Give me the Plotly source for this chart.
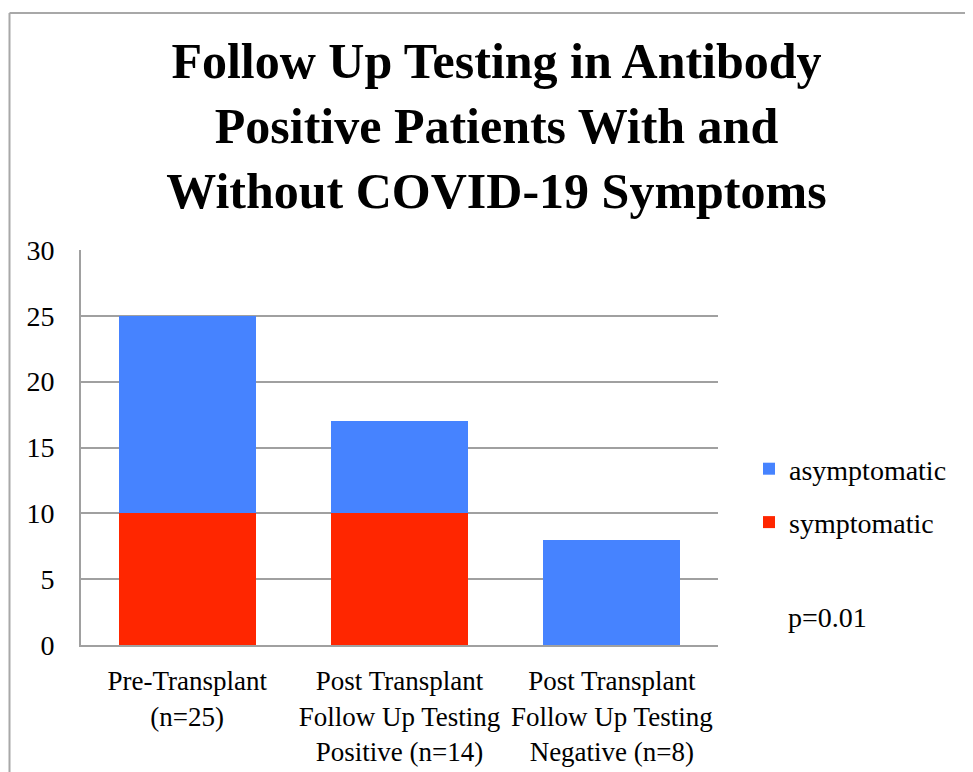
import plotly.graph_objects as go

categories = [
    "Pre-Transplant<br>(n=25)",
    "Post Transplant<br>Follow Up Testing<br>Positive (n=14)",
    "Post Transplant<br>Follow Up Testing<br>Negative (n=8)",
]
symptomatic = [10, 10, 0]
asymptomatic = [15, 7, 8]
y_ticks = [0, 5, 10, 15, 20, 25, 30]

FONT = "Liberation Serif"
OFF = 8  # page body margin
W, H = 973 - OFF, 772 - OFF
# plot area in screen pixels
SL, SR, ST, SB = 81, 718, 250, 645
L, R, T, B = SL - OFF, SR - OFF, ST - OFF, SB - OFF

fig = go.Figure()
fig.add_trace(go.Bar(x=categories, y=symptomatic, name="symptomatic",
                     marker=dict(color="#FF2600", line=dict(width=0)),
                     legendgroup="s", legendrank=2))
fig.add_trace(go.Bar(x=categories, y=asymptomatic, name="asymptomatic",
                     marker=dict(color="#4683FF", line=dict(width=0)),
                     legendgroup="a", legendrank=1))

def px_x(x):
    return (x - OFF - L) / (R - L)

def px_y(y):
    return (B - (y - OFF)) / (B - T)

fig.update_layout(
    width=W, height=H,
    margin=dict(l=L, r=W - R, t=T, b=H - B, autoexpand=False),
    barmode="stack",
    bargap=0.355,
    plot_bgcolor="white",
    paper_bgcolor="white",
    font=dict(family=FONT, size=28, color="black"),
    title=dict(
        text="<b>Follow Up Testing in Antibody<br>Positive Patients With and<br>Without COVID-19 Symptoms</b>",
        x=(496.5 - OFF) / W, xanchor="center",
        y=1 - (78 - OFF) / H, yanchor="middle", yref="container",
        font=dict(family=FONT, size=50, color="black"),
    ),
    xaxis=dict(
        showgrid=False, showline=True, linecolor="#a0a0a0", linewidth=2,
        ticks="", ticklabelstandoff=11, automargin=False,
        tickfont=dict(size=27),
    ),
    yaxis=dict(
        range=[0, 30], tickvals=y_ticks, ticktext=[str(v) for v in y_ticks],
        showgrid=True, gridcolor="#a0a0a0", gridwidth=2,
        showline=True, linecolor="#a0a0a0", linewidth=2,
        zeroline=False, ticks="", ticklabelstandoff=19, automargin=False,
    ),
    legend=dict(
        x=px_x(749), xanchor="left",
        y=px_y(444), yanchor="top",
        traceorder="grouped", tracegroupgap=14,
        font=dict(size=28), bgcolor="rgba(0,0,0,0)",
    ),
    showlegend=True,
)

fig.add_annotation(
    text="p=0.01", xref="paper", yref="paper",
    x=px_x(786), xanchor="left", y=px_y(617), yanchor="middle",
    showarrow=False, font=dict(size=28),
)

# outer frame (left and top edges visible)
fig.add_shape(type="line", xref="paper", yref="paper",
              x0=px_x(9.5), x1=px_x(9.5), y0=px_y(13), y1=px_y(800),
              line=dict(color="#a8a8a8", width=2))
fig.add_shape(type="line", xref="paper", yref="paper",
              x0=px_x(9.5), x1=px_x(1000), y0=px_y(13), y1=px_y(13),
              line=dict(color="#a8a8a8", width=2))

fig.write_html("out.html")
